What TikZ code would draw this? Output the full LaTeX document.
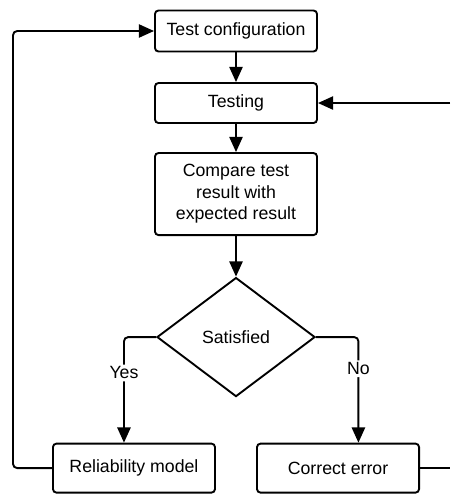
\documentclass[tikz,border=0pt]{standalone}
\usepackage{fontspec}
\setmainfont{Liberation Sans}
\usetikzlibrary{shapes.geometric,arrows.meta,positioning}

\begin{document}
\begin{tikzpicture}[x=0.025cm,y=-0.025cm,->,>={Triangle[length=3.8mm,width=3.3mm]},line width=1.35pt,
            main node/.style={rectangle,rounded corners=2.5pt,draw,
            font=\fontsize{12.6}{15.3}\selectfont,minimum width=4.05cm,align=center},
            decision node/.style={diamond,draw,aspect=1.33,minimum width=3.95cm,
            minimum height=2.975cm,inner sep=0pt,font=\fontsize{12.6}{15.3}\selectfont},
            branch label/.style={fill=white,inner sep=1.5pt,font=\fontsize{12.6}{15.3}\selectfont}]

            \useasboundingbox (0,0) rectangle (450,494);

            \node[main node,minimum height=1.025cm] (TestConfiguration) at (236,31) {Test configuration};
            \node[main node,minimum height=1cm] (Testing) [below of=TestConfiguration,node distance=1.8cm] {Testing};

            \node[main node,minimum height=2.05cm] (CompareResult) [below of=Testing,node distance=2.275cm] {Compare test\\result with\\expected result};

            \node[decision node] (Satisfied) [below of=CompareResult,node distance=3.575cm] {Satisfied};

            \node[main node,minimum height=1.225cm] (ReliabilityModel) [below of=Satisfied,node distance=3.275cm,xshift=-2.55cm] {Reliability model};
            \node[main node,minimum height=1.225cm] (CorrectError) [below of=Satisfied,node distance=3.275cm,xshift=2.55cm] {Correct error};

            % loop rails
            \coordinate (LeftRail) at (13,0);
            \coordinate (RightEdge) at (450,0);

            \draw [->] (TestConfiguration) -- (Testing);
            \draw [->] (Testing) -- (CompareResult);
            \draw [->] (CompareResult) -- (Satisfied);

            \draw [->,rounded corners=3pt] (Satisfied.west) -| node[branch label,pos=0.67] {Yes} ([xshift=-0.25cm]ReliabilityModel.north);
            \draw [->,rounded corners=3pt] (Satisfied.east) -| node[branch label,pos=0.65] {No} ([xshift=0.51cm]CorrectError.north);

            \draw [->,rounded corners=3pt] (ReliabilityModel.west) -- (ReliabilityModel.west -| LeftRail) |- (TestConfiguration.west);

            \draw [arrows={-}] (CorrectError.east) -- (CorrectError.east -| RightEdge);
            \draw [->] (Testing.east -| RightEdge) -- (Testing.east);
          \end{tikzpicture}
\end{document}
